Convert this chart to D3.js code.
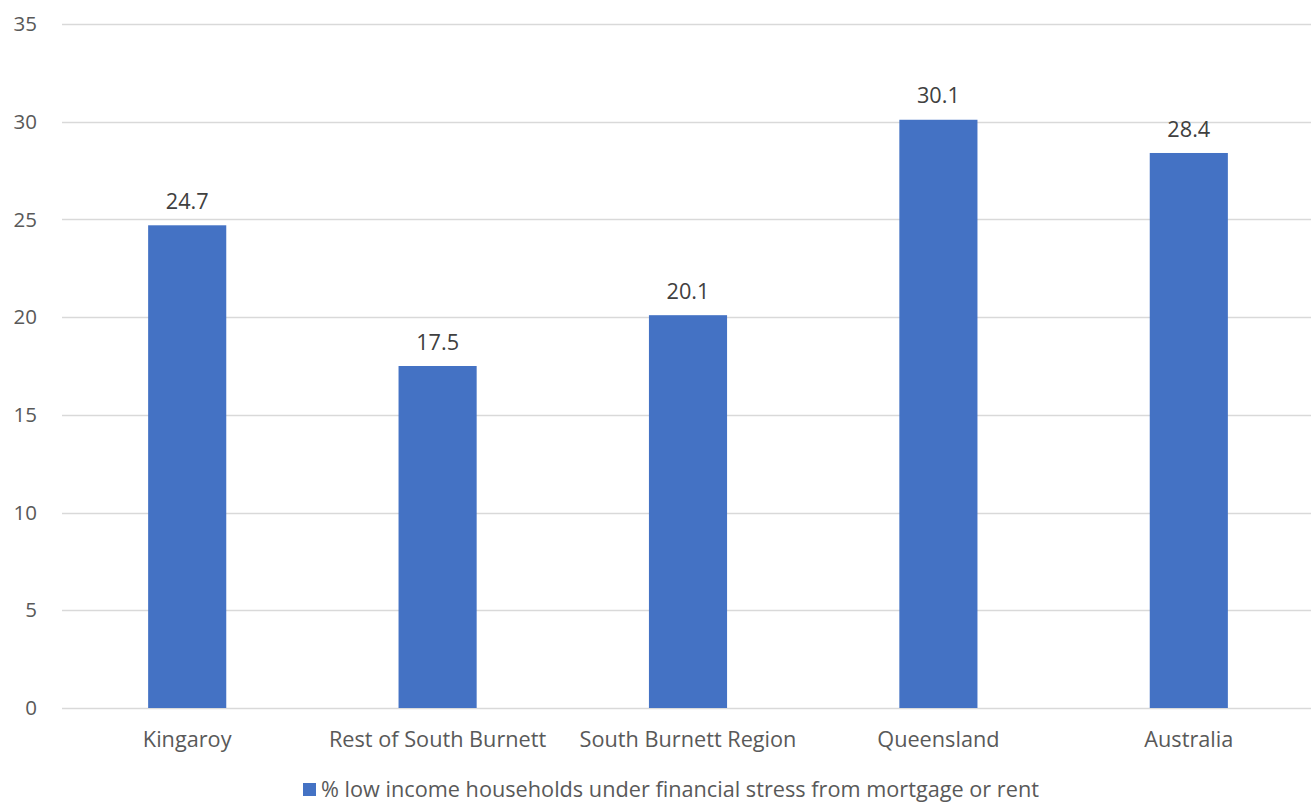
<!DOCTYPE html>
<html>
<head>
<meta charset="utf-8">
<script src="https://cdn.jsdelivr.net/npm/d3@7"></script>
<style>
html,body{margin:0;padding:0;background:#fff;}
svg{display:block;}
text{font-family:"Open Sans","Noto Sans",sans-serif;}
</style>
</head>
<body>
<svg id="chart" width="1311" height="802"></svg>
<script>
const categories = ["Kingaroy","Rest of South Burnett","South Burnett Region","Queensland","Australia"];
const values = [24.7, 17.5, 20.1, 30.1, 28.4];
const yTicks = [0,5,10,15,20,25,30,35];
const seriesName = "% low income households under financial stress from mortgage or rent";

const svg = d3.select("#chart");
const W = 1311, H = 802;
const mLeft = 62, mRight = 1314, mTop = 24, mBottom = 708;
const fs = 21.7, fsTick = 20.5;

const x = d3.scaleBand().domain(categories).range([mLeft, mRight])
  .paddingInner(0.688).paddingOuter(0.344);
const y = d3.scaleLinear().domain([0,35]).range([mBottom, mTop]);

// gridlines
svg.append("g").selectAll("line").data(yTicks).join("line")
  .attr("x1", mLeft).attr("x2", W)
  .attr("y1", d => Math.round(y(d)) + 0.5).attr("y2", d => Math.round(y(d)) + 0.5)
  .attr("stroke", "#d9d9d9").attr("stroke-width", 1.3);

// y tick labels
svg.append("g").selectAll("text").data(yTicks).join("text")
  .attr("x", 37).attr("y", d => y(d)).attr("dy", "0.35em")
  .attr("text-anchor", "end").attr("fill", "#595959")
  .attr("font-size", fsTick).text(d => d);

// bars
svg.append("g").selectAll("rect").data(values).join("rect")
  .attr("x", (d,i) => x(categories[i]))
  .attr("width", x.bandwidth())
  .attr("y", d => y(d))
  .attr("height", d => y(0) - y(d))
  .attr("fill", "#4472c4");

// value labels
svg.append("g").selectAll("text").data(values).join("text")
  .attr("x", (d,i) => x(categories[i]) + x.bandwidth()/2)
  .attr("y", d => y(d) - 24).attr("dy", "0.35em")
  .attr("text-anchor", "middle").attr("fill", "#404040")
  .attr("font-size", fs).text(d => d.toFixed(1));

// category labels
svg.append("g").selectAll("text").data(categories).join("text")
  .attr("x", d => x(d) + x.bandwidth()/2)
  .attr("y", 747)
  .attr("text-anchor", "middle").attr("fill", "#595959")
  .attr("font-size", fs).text(d => d);

// legend
const lg = svg.append("g");
lg.append("rect").attr("x", 303).attr("y", 783).attr("width", 13).attr("height", 13).attr("fill", "#4472c4");
lg.append("text").attr("x", 321).attr("y", 797).attr("fill", "#595959")
  .attr("font-size", fs).text(seriesName);
</script>
</body>
</html>
